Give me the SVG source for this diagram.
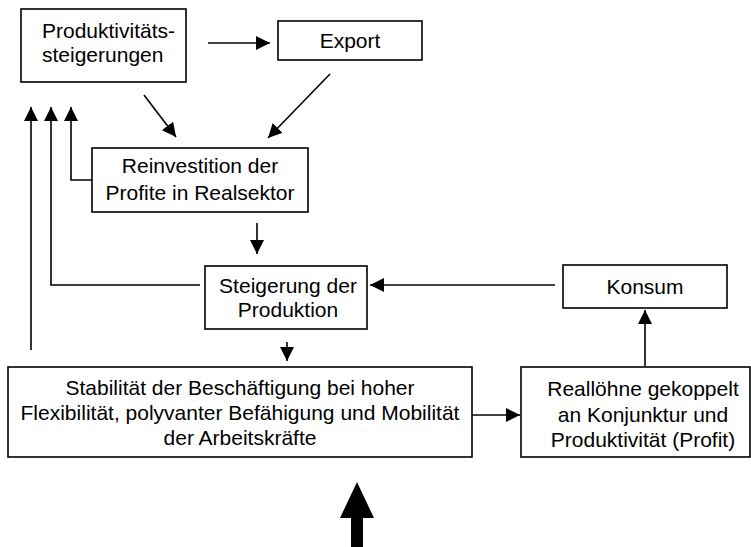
<svg xmlns="http://www.w3.org/2000/svg" width="751" height="547" viewBox="0 0 751 547">
<defs>
<marker id="ah" viewBox="0 0 14 14" refX="14" refY="7" markerWidth="14" markerHeight="14" markerUnits="userSpaceOnUse" orient="auto">
<path d="M0,0 L14,7 L0,14 Z" fill="#000"/>
</marker>
</defs>
<style>
.box{fill:#fff;stroke:#000;stroke-width:1.6}
.t{font-family:"Liberation Sans",Arial,sans-serif;font-size:21px;fill:#000}
.c{text-anchor:middle}
.ln{fill:none;stroke:#000;stroke-width:1.6}
.ar{fill:none;stroke:#000;stroke-width:1.6;marker-end:url(#ah)}
</style>
<rect width="751" height="547" fill="#fff"/>
<g id="connectors">
<line class="ar" x1="208" y1="43" x2="270" y2="43"/>
<line class="ar" x1="144" y1="95" x2="176" y2="137"/>
<line class="ar" x1="330" y1="74" x2="268" y2="138"/>
<polyline class="ar" points="92,180 71,180 71,107"/>
<polyline class="ar" points="200,285 51,285 51,107"/>
<line class="ar" x1="31" y1="350" x2="31" y2="107"/>
<line class="ar" x1="257" y1="223" x2="257" y2="254"/>
<line class="ar" x1="555" y1="285" x2="370" y2="285"/>
<line class="ar" x1="287" y1="342" x2="287" y2="361"/>
<line class="ar" x1="472" y1="415" x2="520" y2="415"/>
<line class="ar" x1="645" y1="366" x2="645" y2="310"/>
<path d="M357,482 L374,518 L363,518 L363,547 L351,547 L351,518 L340,518 Z" fill="#000"/>
</g>
<g id="n1">
<rect class="box" x="21" y="9" width="165" height="73"/>
<text class="t" x="42" y="38">Produktivitäts-</text>
<text class="t" x="42" y="62">steigerungen</text>
</g>
<g id="n2">
<rect class="box" x="278" y="21" width="144" height="39"/>
<text class="t c" x="350" y="48">Export</text>
</g>
<g id="n3">
<rect class="box" x="92" y="148" width="216" height="64"/>
<text class="t c" x="200" y="173">Reinvestition der</text>
<text class="t c" x="200" y="200">Profite in Realsektor</text>
</g>
<g id="n4">
<rect class="box" x="205" y="266" width="162" height="63"/>
<text class="t c" x="288" y="293">Steigerung der</text>
<text class="t c" x="288" y="317">Produktion</text>
</g>
<g id="n5">
<rect class="box" x="563" y="265" width="164" height="43"/>
<text class="t c" x="645" y="294">Konsum</text>
</g>
<g id="n6">
<rect class="box" x="8" y="367" width="464" height="90"/>
<text class="t c" x="240" y="395">Stabilität der Beschäftigung bei hoher</text>
<text class="t c" x="240" y="420">Flexibilität, polyvanter Befähigung und Mobilität</text>
<text class="t c" x="240" y="445">der Arbeitskräfte</text>
</g>
<g id="n7">
<rect class="box" x="521" y="367" width="229" height="90"/>
<text class="t c" x="643" y="396">Reallöhne gekoppelt</text>
<text class="t c" x="643" y="422">an Konjunktur und</text>
<text class="t c" x="643" y="447">Produktivität (Profit)</text>
</g>
</svg>
